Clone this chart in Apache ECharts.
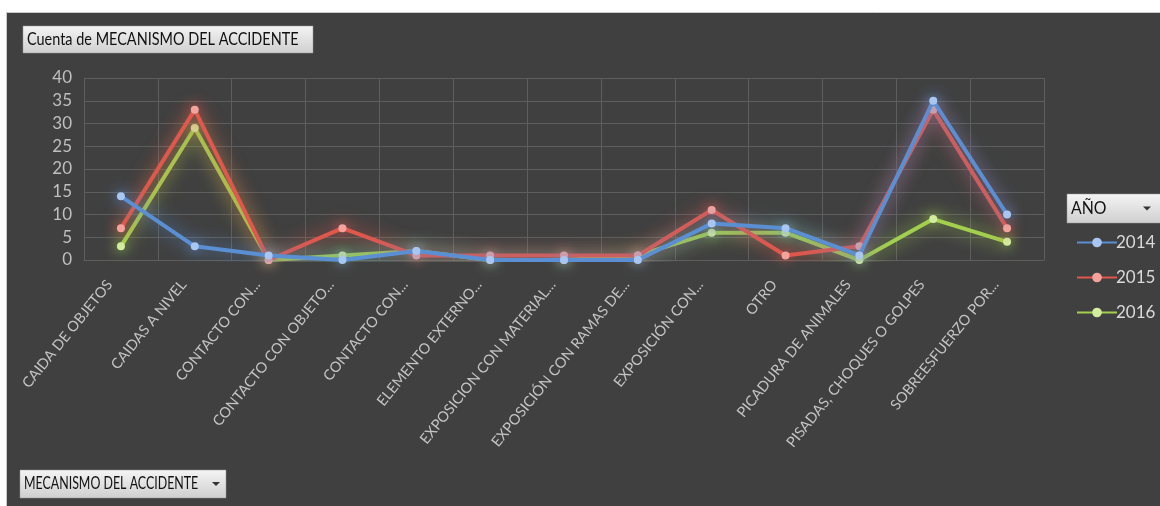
<!DOCTYPE html>
<html>
<head>
<meta charset="utf-8">
<script src="https://cdn.jsdelivr.net/npm/echarts@6/dist/echarts.min.js"></script>
<style>
html,body{margin:0;padding:0;background:#fff;}
#c{width:1160px;height:506px;}
</style>
</head>
<body>
<div id="c"></div>
<script>
const categories = [
  'CAIDA DE OBJETOS','CAIDAS A NIVEL','CONTACTO CON...','CONTACTO CON OBJETO...','CONTACTO CON...',
  'ELEMENTO EXTERNO...','EXPOSICION CON MATERIAL...','EXPOSICIÓN CON RAMAS DE...','EXPOSICIÓN CON...',
  'OTRO','PICADURA DE ANIMALES','PISADAS, CHOQUES O GOLPES','SOBREESFUERZO POR...'
];
const years = ['2014','2015','2016'];
const values2014 = [14, 3, 1, 0, 2, 0, 0, 0, 8, 7, 1, 35, 10];
const values2015 = [7, 33, 0, 7, 1, 1, 1, 1, 11, 1, 3, 33, 7];
const values2016 = [3, 29, 0, 1, 2, 0, 0, 1, 6, 6, 0, 9, 4];
const yTicks = [0, 5, 10, 15, 20, 25, 30, 35, 40];

const lineColors = ['#5b8fd4', '#e0574c', '#a2cf4e'];
const markColors = ['#a9c6f0', '#f4a39c', '#d3ec9f'];
const FONT = 'Lato, "Open Sans", sans-serif';

const seriesData = [values2014, values2015, values2016];

function button(x, y, w, h, label, arrow, fontSize, sx) {
  const children = [
    { type: 'rect', shape: { x: 0, y: 0, width: w, height: h },
      style: { fill: new echarts.graphic.LinearGradient(0, 0, 0, 1, [
        { offset: 0, color: '#f4f4f4' }, { offset: 1, color: '#cfcfcf' }]),
        stroke: '#9a9a9a', lineWidth: 0.5 } },
    { type: 'text', x: 4, y: h / 2, scaleX: sx,
      style: { text: label, fill: '#111', font: fontSize + 'px ' + FONT, verticalAlign: 'middle' } }
  ];
  if (arrow) {
    children.push({ type: 'polygon', shape: { points: [[arrow - 4, h / 2 - 2], [arrow + 4, h / 2 - 2], [arrow, h / 2 + 2]] },
      style: { fill: '#333' } });
  }
  return { type: 'group', x: x, y: y, children: children, z: 10 };
}

const chart = echarts.init(document.getElementById('c'), null, { renderer: 'canvas' });
chart.setOption({
  backgroundColor: '#ffffff',
  animation: false,
  graphic: [
    { type: 'rect', shape: { x: 6.5, y: 12.5, width: 1160, height: 500 },
      style: { fill: '#404040', stroke: '#c9c9c9', lineWidth: 1 }, z: -10 },
    button(23, 26, 290, 27, 'Cuenta de MECANISMO DEL ACCIDENTE', 0, 17, 0.85),
    button(20, 470, 206, 28, 'MECANISMO DEL ACCIDENTE', 196, 17, 0.73),
    button(1067, 194, 100, 29, 'AÑO', 80, 18, 0.88)
  ],
  grid: { left: 84, right: 116, top: 78, bottom: 246, containLabel: false },
  legend: {
    data: years,
    orient: 'vertical',
    left: 1071, top: 229,
    itemWidth: 40, itemHeight: 12, itemGap: 18,
    textStyle: { color: '#d9d9d9', fontSize: 17, fontFamily: FONT, padding: [0, 0, 0, -6] }
  },
  xAxis: {
    type: 'category',
    data: categories,
    boundaryGap: true,
    axisLine: { show: true, lineStyle: { color: '#5e5e5e', width: 1 } },
    axisTick: { show: false },
    splitLine: { show: true, lineStyle: { color: '#5e5e5e', width: 1 } },
    axisLabel: { rotate: 51, interval: 0, color: '#c4c4c4', fontSize: 14.5, fontFamily: FONT,
      margin: 8, padding: [0, 18, 0, 0] }
  },
  yAxis: {
    type: 'value', min: 0, max: 40, interval: 5,
    axisLine: { show: false }, axisTick: { show: false },
    splitLine: { show: true, lineStyle: { color: '#5e5e5e', width: 1 } },
    axisLabel: { color: '#bfbfbf', fontSize: 17, fontFamily: FONT, margin: 12,
      formatter: v => yTicks.includes(v) ? String(v) : '' }
  },
  series: years.map((y, i) => ({
    name: y,
    type: 'line',
    data: seriesData[i],
    symbol: 'circle',
    symbolSize: 8,
    z: 3 - i,
    lineStyle: { color: lineColors[i], width: 4, shadowColor: lineColors[i], shadowBlur: 18 },
    itemStyle: { color: markColors[i], borderWidth: 0, shadowColor: lineColors[i], shadowBlur: 12 }
  }))
});
</script>
</body>
</html>
